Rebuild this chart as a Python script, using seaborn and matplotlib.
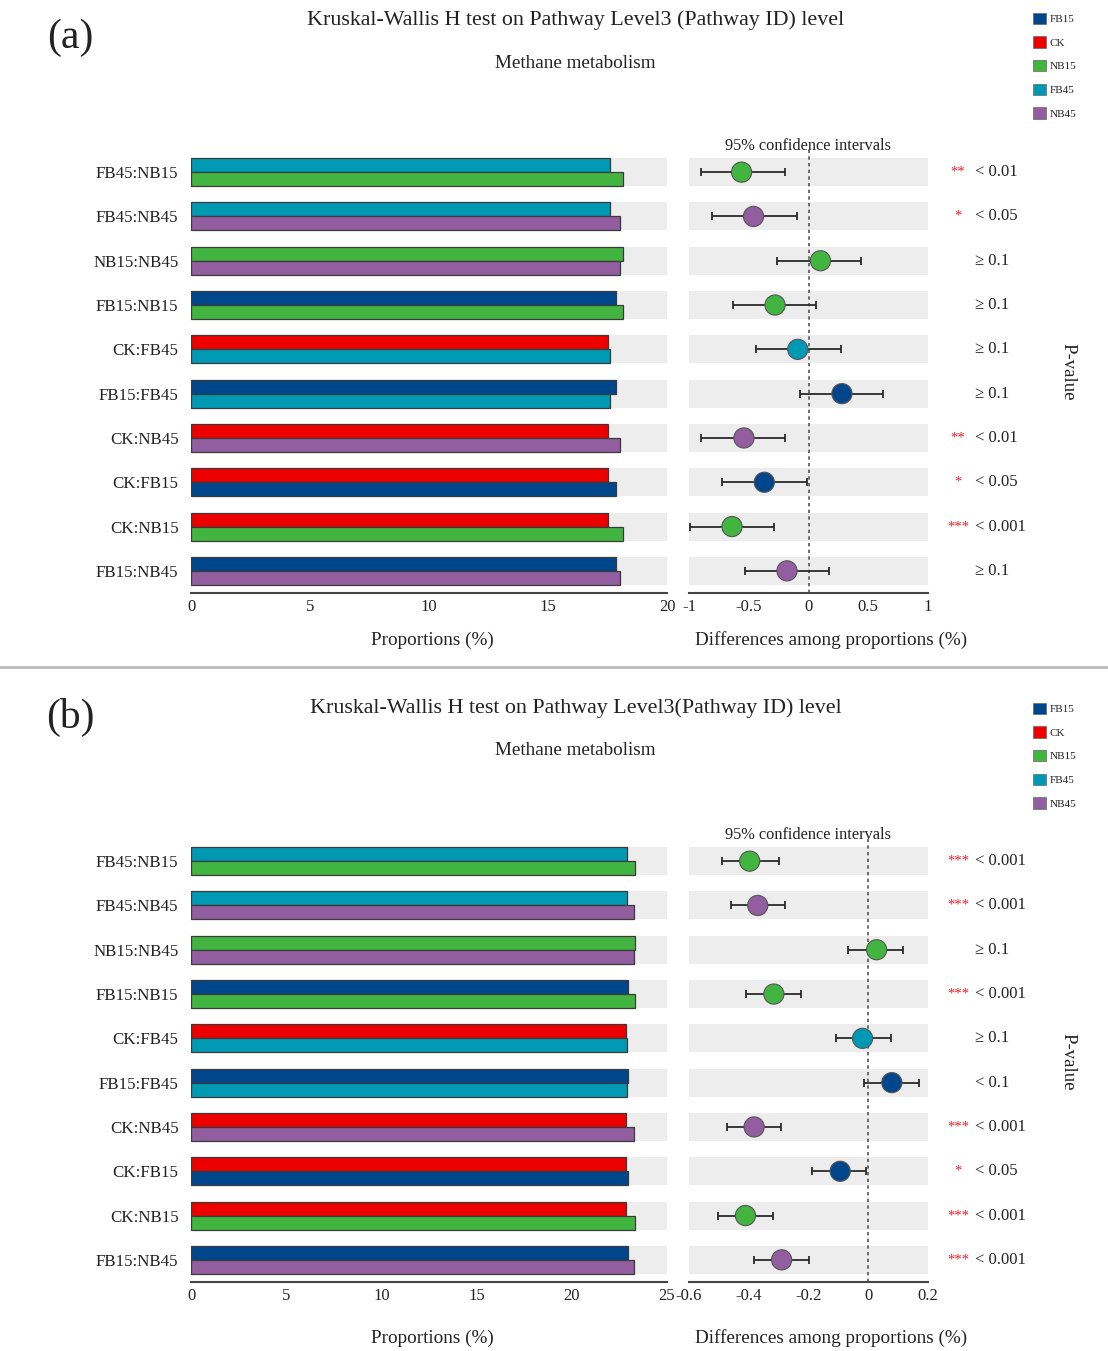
import numpy as np
import pandas as pd
import matplotlib
matplotlib.use("Agg")
import matplotlib.pyplot as plt
import seaborn as sns
from matplotlib.patches import Patch
from matplotlib.lines import Line2D
from matplotlib.transforms import blended_transform_factory

# ---------------- data ----------------
groups = ["FB15", "CK", "NB15", "FB45", "NB45"]
group_colors = ["#00468B", "#ED0000", "#42B540", "#0099B4", "#925E9F"]

pairs = ["FB45:NB15", "FB45:NB45", "NB15:NB45", "FB15:NB15", "CK:FB45",
         "FB15:FB45", "CK:NB45", "CK:FB15", "CK:NB15", "FB15:NB45"]
point_group = ["NB15", "NB45", "NB15", "NB15", "FB45",
               "FB15", "NB45", "FB15", "NB15", "NB45"]

# panel (a)
means_a = [17.86, 17.50, 18.15, 17.62, 18.02]
diff_a = [-0.56, -0.46, 0.10, -0.28, -0.09, 0.28, -0.54, -0.37, -0.64, -0.18]
ci_low_a = [-0.90, -0.81, -0.26, -0.63, -0.44, -0.07, -0.90, -0.72, -0.99, -0.53]
ci_high_a = [-0.20, -0.10, 0.44, 0.065, 0.27, 0.62, -0.20, -0.01, -0.29, 0.17]
stars_a = ["**", "*", "", "", "", "", "**", "*", "***", ""]
pvals_a = ["< 0.01", "< 0.05", "≥ 0.1", "≥ 0.1", "≥ 0.1", "≥ 0.1",
           "< 0.01", "< 0.05", "< 0.001", "≥ 0.1"]
xticks_bar_a = [0, 5, 10, 15, 20]
xticks_ci_a = [-1, -0.5, 0, 0.5, 1]
xticklabels_ci_a = ["-1", "-0.5", "0", "0.5", "1"]

# panel (b)
means_b = [22.97, 22.85, 23.33, 22.89, 23.27]
diff_b = [-0.397, -0.37, 0.028, -0.316, -0.019, 0.079, -0.382, -0.094, -0.411, -0.29]
ci_low_b = [-0.49, -0.46, -0.067, -0.41, -0.109, -0.013, -0.474, -0.188, -0.502, -0.382]
ci_high_b = [-0.30, -0.28, 0.117, -0.224, 0.076, 0.169, -0.291, -0.007, -0.319, -0.197]
stars_b = ["***", "***", "", "***", "", "", "***", "*", "***", "***"]
pvals_b = ["< 0.001", "< 0.001", "≥ 0.1", "< 0.001", "≥ 0.1", "< 0.1",
           "< 0.001", "< 0.05", "< 0.001", "< 0.001"]
xticks_bar_b = [0, 5, 10, 15, 20, 25]
xticks_ci_b = [-0.6, -0.4, -0.2, 0, 0.2]
xticklabels_ci_b = ["-0.6", "-0.4", "-0.2", "0", "0.2"]

title_a = "Kruskal-Wallis H test on Pathway Level3 (Pathway ID) level"
title_b = "Kruskal-Wallis H test on Pathway Level3(Pathway ID) level"
subtitle = "Methane metabolism"

# ---------------- style ----------------
sns.set_style("white")
plt.rcParams["font.family"] = ["Liberation Serif", "DejaVu Serif"]
plt.rcParams["axes.edgecolor"] = "#444444"
plt.rcParams["text.color"] = "#222222"
plt.rcParams["xtick.color"] = "#222222"
plt.rcParams["ytick.color"] = "#222222"
plt.rcParams["axes.labelcolor"] = "#222222"

cmap = dict(zip(groups, group_colors))
band_color = "#EDEDED"

W, H = 1108, 1351
fig = plt.figure(figsize=(W / 100, H / 100), dpi=100)


def fx(px):
    return px / W


def fy(py):
    return 1 - py / H


def draw_panel(top_px, bot_px, means, diff, lo, hi, stars, pvals,
               xt_bar, xt_ci, xtl_ci, bar_lim, ci_lim, xlabel_y_px):
    mean_map = dict(zip(groups, means))
    rows = []
    for p in pairs:
        g1, g2 = p.split(":")
        rows.append({"pair": p, "slot": "first", "group": g1, "value": mean_map[g1]})
        rows.append({"pair": p, "slot": "second", "group": g2, "value": mean_map[g2]})
    df = pd.DataFrame(rows)

    h = (bot_px - top_px) / H
    axb = fig.add_axes([fx(191), fy(bot_px), fx(667) - fx(191), h])
    axc = fig.add_axes([fx(689), fy(bot_px), fx(928) - fx(689), h])

    # bars
    sns.barplot(data=df, x="value", y="pair", hue="slot", order=pairs,
                hue_order=["first", "second"], orient="h", errorbar=None,
                width=0.63, legend=False, ax=axb, zorder=2,
                edgecolor="#3a3a3a", linewidth=0.9)
    for si, cont in enumerate(axb.containers):
        for i, bar in enumerate(cont):
            g = pairs[i].split(":")[si]
            bar.set_facecolor(cmap[g])
    for i in range(len(pairs)):
        axb.axhspan(i - 0.315, i + 0.315, color=band_color, zorder=0, lw=0)
    axb.set_xlim(*bar_lim)
    axb.set_ylim(len(pairs) - 0.5, -0.5)
    axb.set_xticks(xt_bar)
    axb.set_xticklabels([str(t) for t in xt_bar])
    axb.set_ylabel("")
    axb.set_xlabel("Proportions (%)", fontsize=13.8)
    for s in ["top", "right", "left"]:
        axb.spines[s].set_visible(False)
    axb.spines["bottom"].set_linewidth(1.5)
    axb.tick_params(axis="x", direction="in", length=5, width=1.2,
                    labelsize=12, pad=4, color="#444444")
    axb.tick_params(axis="y", length=0, labelsize=12.2, pad=9)

    # confidence intervals
    ypos = np.arange(len(pairs))
    for i in range(len(pairs)):
        axc.axhspan(i - 0.315, i + 0.315, color=band_color, zorder=0, lw=0)
    d = np.array(diff)
    xerr = [d - np.array(lo), np.array(hi) - d]
    axc.errorbar(d, ypos, xerr=xerr, fmt="none", ecolor="#2b2b2b",
                 elinewidth=1.3, capsize=3, capthick=1.3, zorder=2)
    cdf = pd.DataFrame({"diff": d, "row": ypos, "group": point_group})
    sns.scatterplot(data=cdf, x="diff", y="row", hue="group", palette=cmap,
                    s=210, edgecolor="#555555", linewidth=0.8, legend=False,
                    ax=axc, zorder=3)
    axc.axvline(0, color="#555555", ls=(0, (2, 2)), lw=1.2, zorder=1)
    axc.set_xlim(*ci_lim)
    axc.set_ylim(len(pairs) - 0.5, -0.5)
    axc.set_yticks([])
    axc.set_xticks(xt_ci)
    axc.set_xticklabels(xtl_ci)
    axc.set_ylabel("")
    axc.set_xlabel("Differences among proportions (%)", fontsize=13.8)
    for s in ["top", "right", "left"]:
        axc.spines[s].set_visible(False)
    axc.spines["bottom"].set_linewidth(1.5)
    axc.tick_params(axis="x", direction="in", length=5, width=1.2,
                    labelsize=12, pad=4, color="#444444")

    # x-label positions (axes coords)
    ybl = -(xlabel_y_px - bot_px) / (bot_px - top_px)
    axb.xaxis.set_label_coords((432 - 191) / (667 - 191), ybl)
    axc.xaxis.set_label_coords((831 - 689) / (928 - 689), ybl)
    axb.xaxis.label.set_va("center")
    axc.xaxis.label.set_va("center")

    # p-values
    tr = blended_transform_factory(fig.transFigure, axc.transData)
    for i in range(len(pairs)):
        if stars[i]:
            axc.text(fx(958), i, stars[i], transform=tr, ha="center",
                     va="center", color="#E8202A", fontsize=10.5)
        axc.text(fx(975), i, pvals[i], transform=tr, ha="left",
                 va="center", fontsize=12)
    fig.text(fx(808), fy(top_px - 4), "95% confidence intervals",
             ha="center", va="center", fontsize=11.8)
    return axb, axc


draw_panel(150, 593, means_a, diff_a, ci_low_a, ci_high_a, stars_a, pvals_a,
           xticks_bar_a, xticks_ci_a, xticklabels_ci_a, (0, 20), (-1, 1), 640)
draw_panel(839, 1282, means_b, diff_b, ci_low_b, ci_high_b, stars_b, pvals_b,
           xticks_bar_b, xticks_ci_b, xticklabels_ci_b, (0, 25), (-0.6, 0.2), 1338)

# headers
for lab, ly, ttl, ty, sy, py_pv, leg_top in [
        ("(a)", 38, title_a, 20, 64, 372, 7),
        ("(b)", 717, title_b, 708, 750, 1062, 697)]:
    fig.text(fx(70), fy(ly), lab, ha="center", va="center", fontsize=30)
    fig.text(fx(576), fy(ty), ttl, ha="center", va="center", fontsize=15.8)
    fig.text(fx(575), fy(sy), subtitle, ha="center", va="center", fontsize=13.8)
    fig.text(fx(1068), fy(py_pv), "P-value", ha="center", va="center",
             rotation=-90, fontsize=13.5)
    handles = [Patch(facecolor=c, edgecolor="#666666", lw=0.5) for c in group_colors]
    fig.legend(handles, groups, loc="upper left",
               bbox_to_anchor=(fx(1027), fy(leg_top)), frameon=False,
               fontsize=8, handlelength=1.2, handleheight=1.2,
               labelspacing=1.1, handletextpad=0.3, borderpad=0)

# separator line
fig.add_artist(Line2D([0, 1], [fy(667), fy(667)], transform=fig.transFigure,
                      color="#BBBBBB", lw=2))

fig.savefig("out.png", dpi=100)
